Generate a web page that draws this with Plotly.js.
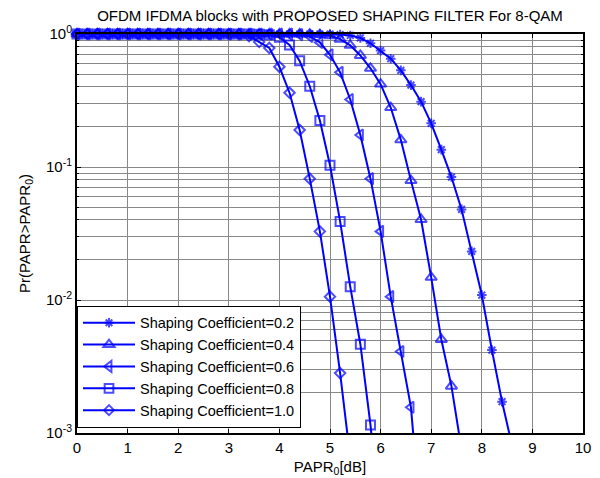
<!DOCTYPE html>
<html>
<head>
<meta charset="utf-8">
<script src="https://cdn.plot.ly/plotly-3.0.1.min.js"></script>
<style>html,body{margin:0;padding:0;background:#fff;}#chart{width:600px;height:478px;}</style>
</head>
<body>
<div id="chart"></div>
<script>
// PAPR0 [dB] sample points per curve
const x02 = [0,0.2,0.4,0.6,0.8,1,1.2,1.4,1.6,1.8,2,2.2,2.4,2.6,2.8,3,3.2,3.4,3.6,3.8,4,4.2,4.4,4.6,4.8,5,5.2,5.4,5.6,5.8,6,6.2,6.4,6.6,6.8,7,7.2,7.4,7.6,7.8,8,8.2,8.4,8.6];
const y02 = [1,1,1,1,1,1,1,1,1,1,1,1,1,1,1,1,1,1,1,1,1,1,1,1,0.999,0.996,0.99,0.975,0.935,0.852,0.75,0.652,0.533,0.413,0.31,0.213,0.135,0.084,0.048,0.0232,0.0109,0.0042,0.00172,0.0008];

const x04 = [0,0.2,0.4,0.6,0.8,1,1.2,1.4,1.6,1.8,2,2.2,2.4,2.6,2.8,3,3.2,3.4,3.6,3.8,4,4.2,4.4,4.6,4.8,5,5.2,5.4,5.6,5.8,6,6.2,6.4,6.6,6.8,7,7.2,7.4,7.6];
const y04 = [1,1,1,1,1,1,1,1,1,1,1,1,1,1,1,1,1,1,1,1,1,1,1,0.998,0.99,0.97,0.915,0.822,0.69,0.552,0.42,0.28,0.16,0.079,0.0403,0.0148,0.00505,0.00225,0.00075];

const x06 = [0,0.2,0.4,0.6,0.8,1,1.2,1.4,1.6,1.8,2,2.2,2.4,2.6,2.8,3,3.2,3.4,3.6,3.8,4,4.2,4.4,4.6,4.8,5,5.2,5.4,5.6,5.8,6,6.2,6.4,6.6,6.8];
const y06 = [1,1,1,1,1,1,1,1,1,1,1,1,1,1,1,1,1,1,1,1,1,0.998,0.99,0.96,0.865,0.697,0.515,0.322,0.174,0.0817,0.0328,0.0106,0.0041,0.00156,0.0002];

const x08 = [0,0.2,0.4,0.6,0.8,1,1.2,1.4,1.6,1.8,2,2.2,2.4,2.6,2.8,3,3.2,3.4,3.6,3.8,4,4.2,4.4,4.6,4.8,5,5.2,5.4,5.6,5.8,6];
const y08 = [1,1,1,1,1,1,1,1,1,1,1,1,1,1,1,1,1,0.999,0.995,0.985,0.945,0.828,0.628,0.405,0.224,0.103,0.039,0.0126,0.00465,0.00115,0.0002];

const x10 = [0,0.2,0.4,0.6,0.8,1,1.2,1.4,1.6,1.8,2,2.2,2.4,2.6,2.8,3,3.2,3.4,3.6,3.8,4,4.2,4.4,4.6,4.8,5,5.2,5.4];
const y10 = [1,1,1,1,1,1,1,1,1,1,1,1,1,1,1,0.999,0.993,0.965,0.872,0.785,0.567,0.362,0.19,0.0817,0.0328,0.0106,0.00282,0.00065];

const seriesNames = ['Shaping Coefficient=0.2','Shaping Coefficient=0.4','Shaping Coefficient=0.6','Shaping Coefficient=0.8','Shaping Coefficient=1.0'];
const xTickVals = [0,1,2,3,4,5,6,7,8,9,10];
const yTickVals = [0.001,0.01,0.1,1];
const yTickText = ['10<sup>-3</sup>','10<sup>-2</sup>','10<sup>-1</sup>','10<sup>0</sup>'];
const yMinorVals = [0.002,0.003,0.004,0.005,0.006,0.007,0.008,0.009,0.02,0.03,0.04,0.05,0.06,0.07,0.08,0.09,0.2,0.3,0.4,0.5,0.6,0.7,0.8,0.9];

const BLUE = '#0000ff';
const GRID = '#888888';
const FONT = '"Liberation Sans", Arial, Helvetica, sans-serif';

function mk(x, y, name, symbol, size) {
  return {
    x: x, y: y, name: name, type: 'scatter', mode: 'lines+markers',
    cliponaxis: false,
    line: {color: BLUE, width: 2},
    marker: {
      symbol: symbol,
      size: y.map(v => v >= 0.001 ? size : 0),
      color: BLUE,
      line: {color: BLUE, width: 2}
    }
  };
}

const data = [
  mk(x02, y02, seriesNames[0], 'asterisk-open', 8),
  mk(x04, y04, seriesNames[1], 'triangle-up-open', 10),
  mk(x06, y06, seriesNames[2], 'triangle-left-open', 10),
  mk(x08, y08, seriesNames[3], 'square-open', 9),
  mk(x10, y10, seriesNames[4], 'diamond-open', 8)
];

const layout = {
  width: 600, height: 478,
  margin: {l: 77, r: 17, t: 34, b: 45},
  paper_bgcolor: '#fff', plot_bgcolor: '#fff',
  font: {family: FONT, size: 15, color: '#000'},
  showlegend: true,
  title: {
    text: 'OFDM IFDMA blocks with PROPOSED SHAPING FILTER For 8-QAM',
    font: {family: FONT, size: 15, color: '#000'},
    x: 0.5, xref: 'paper', xanchor: 'center',
    y: 1 - 16/478, yref: 'container', yanchor: 'middle'
  },
  xaxis: {
    range: [0, 10], tickmode: 'array', tickvals: xTickVals,
    ticks: 'inside', ticklen: 4, tickcolor: '#000',
    showline: true, linecolor: '#000', linewidth: 2, mirror: 'ticks',
    showgrid: true, gridcolor: GRID, gridwidth: 1,
    zeroline: false, automargin: false,
    tickfont: {family: FONT, size: 15, color: '#000'},
    title: {text: 'PAPR<sub>0</sub>[dB]', font: {family: FONT, size: 15, color: '#000'}, standoff: 6}
  },
  yaxis: {
    type: 'log', range: [-3, 0], tickmode: 'array', tickvals: yTickVals, ticktext: yTickText,
    ticks: 'inside', ticklen: 4, tickcolor: '#000',
    showline: true, linecolor: '#000', linewidth: 2, mirror: 'ticks',
    showgrid: true, gridcolor: GRID, gridwidth: 1,
    zeroline: false, automargin: false,
    minor: {tickmode: 'array', tickvals: yMinorVals, showgrid: true, gridcolor: GRID, gridwidth: 1, ticks: 'inside', ticklen: 2, tickcolor: '#000'},
    tickfont: {family: FONT, size: 15, color: '#000'},
    title: {text: 'Pr(PAPR&gt;PAPR<sub>0</sub>)', font: {family: FONT, size: 15, color: '#000'}, standoff: 12}
  },
  legend: {
    x: 0, y: 0.013, xanchor: 'left', yanchor: 'bottom',
    xref: 'paper', yref: 'paper',
    bgcolor: '#fff', bordercolor: '#000', borderwidth: 1,
    font: {family: FONT, size: 14.5, color: '#000'},
    itemwidth: 52, traceorder: 'normal'
  }
};

Plotly.newPlot('chart', data, layout, {displayModeBar: false, staticPlot: true});
</script>
</body>
</html>
